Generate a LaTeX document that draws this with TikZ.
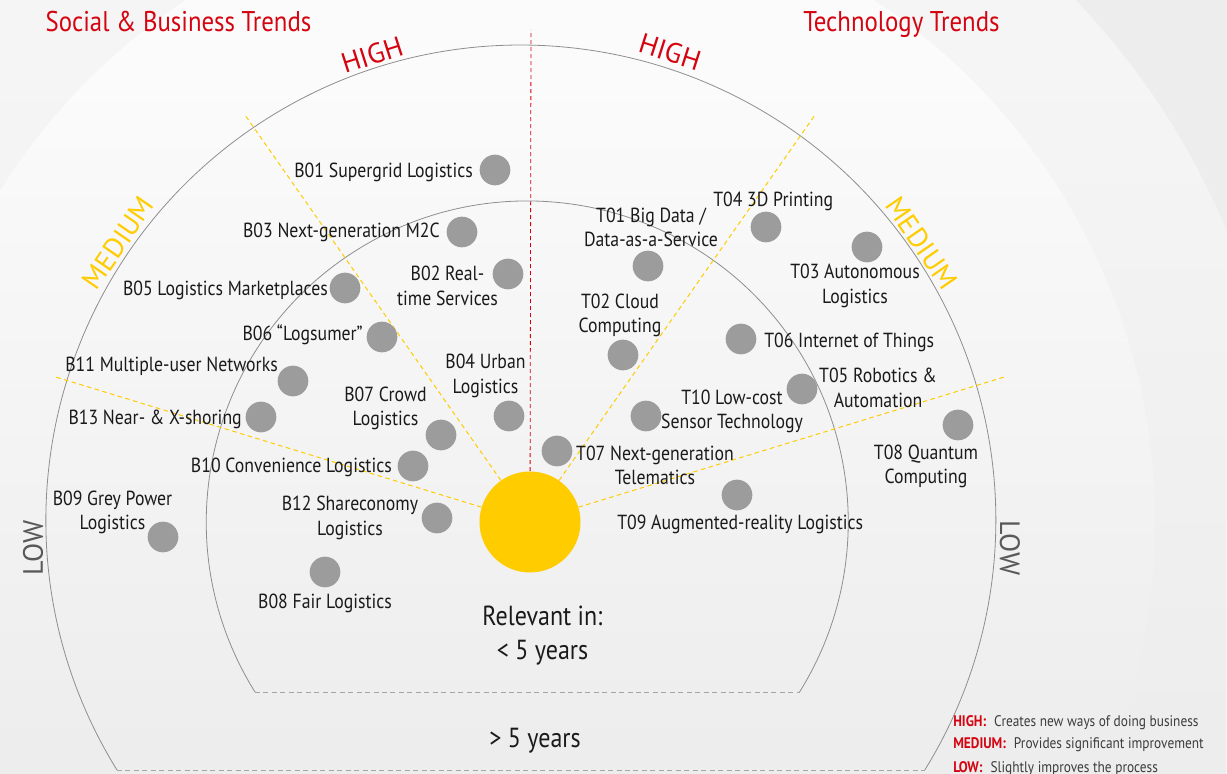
\documentclass[tikz,border=0pt]{standalone}
\usepackage{fontspec}
\setmainfont{PT Sans}[FakeStretch=0.87]
\newfontfamily\capsfont{PT Sans}
\usetikzlibrary{fadings}

\definecolor{dhlred}{HTML}{D40511}
\definecolor{sunyellow}{HTML}{FFCC00}
\definecolor{dotgray}{HTML}{9C9C9C}
\definecolor{ringgray}{HTML}{8E8E8E}
\definecolor{bgout}{HTML}{EDEDED}
\definecolor{bgmid}{HTML}{F5F5F5}
\definecolor{bgin}{HTML}{FBFBFB}
\definecolor{ink}{HTML}{1A1A1A}

\begin{document}
\begin{tikzpicture}[
                x=.75pt, y=.75pt,
                ring/.style={draw=ringgray, line width=.6pt},
                floor/.style={draw=ringgray!80, line width=.6pt, dash pattern=on 3.75pt off 2.6pt},
                axis/.style={draw=dhlred, line width=.6pt, dash pattern=on 3pt off 2.25pt},
                ray/.style={draw=sunyellow, line width=.75pt, dash pattern=on 3.4pt off 2.6pt},
                bubble/.style={circle, fill=dotgray, minimum size=23pt, inner sep=0pt},
                lbl/.style={font=\fontsize{15.3}{18.4}\selectfont, text=ink, inner sep=0pt, align=center},
                title/.style={font=\fontsize{21.4}{26}\selectfont, text=dhlred, inner sep=0pt},
                level/.style={font=\capsfont\fontsize{21}{25}\selectfont, inner sep=0pt},
                big/.style={font=\fontsize{20.7}{25.5}\selectfont, text=ink, inner sep=0pt, align=center},
                key/.style={font=\fontsize{11.5}{14}\selectfont, text=ink!85, inner sep=0pt, anchor=base west},
            ]
                \useasboundingbox (-530, -252) rectangle (697, 522);

                %% background: soft rings, fading to grey at the bottom
                \fill[bgout] (-530, -252) rectangle (697, 522);
                \fill[bgmid] (0, 0) circle[radius=755];
                \fill[bgin] (0, 0) circle[radius=625];
                \fill[bgout, path fading=north] (-530, -252) rectangle (697, 422);

                %% the two horizons, cut flat at the bottom
                \draw[ring] (-413, -248) arc[start angle=211.75, end angle=-31.75, radius=475];
                \draw[floor] (-413, -248) -- (395, -248);
                \draw[ring] (-275, -170) arc[start angle=211.98, end angle=-31.98, radius=321];
                \draw[floor] (-275, -170) -- (270, -170);

                %% centre, sector borders and the split between both halves
                \node[circle, fill=sunyellow, minimum size=75.75pt, inner sep=0pt] (sun) at (0, 0) {};
                \foreach \a in {17, 55, 125, 163}{
                    \draw[ray] (sun) -- (\a:497);
                }
                \coordinate (top) at (1, 492);
                \draw[axis] (sun) -- (top);

                %% trends
                \foreach \n/\x/\y in {b01/-35/352, b02/-22/248, b03/-68/290, b04/-21/106,
                    b05/-185/234, b06/-148/185, b07/-89/87, b08/-205/-50, b09/-367/-15,
                    b10/-117/56, b11/-237/141, b12/-93/4, b13/-269/105,
                    t01/118/256, t02/93/167, t03/337/275, t04/236/295, t05/272/133,
                    t06/211/183, t07/27/71, t08/428/97, t09/207/27, t10/116/106}{
                    \node[bubble] (\n) at (\x, \y) {};
                }

                \node[lbl, anchor=base east] (lb01) at (-57, 344) {B01 Supergrid Logistics};
                \node[lbl] (lb02) at (-82.5, 236) {B02 Real-\\time Services};
                \node[lbl, anchor=base east] (lb03) at (-90, 284) {B03 Next-generation M2C};
                \node[lbl] (lb04) at (-44.5, 146) {B04 Urban\\Logistics};
                \node[lbl, anchor=base east] (lb05) at (-202, 226) {B05 Logistics Marketplaces};
                \node[lbl, anchor=base east] (lb06) at (-167, 181) {B06 “Logsumer”};
                \node[lbl] (lb07) at (-144.5, 113.5) {B07 Crowd\\Logistics};
                \node[lbl, anchor=base] (lb08) at (-205, -86) {B08 Fair Logistics};
                \node[lbl] (lb09) at (-417.5, 9.5) {B09 Grey Power\\Logistics};
                \node[lbl, anchor=base east] (lb10) at (-138, 49) {B10 Convenience Logistics};
                \node[lbl, anchor=base east] (lb11) at (-252, 150) {B11 Multiple-user Networks};
                \node[lbl] (lb12) at (-180, 4) {B12 Shareconomy\\Logistics};
                \node[lbl, anchor=base east] (lb13) at (-288, 97) {B13 Near- \& X-shoring};

                \node[lbl] (lt01) at (121, 294.5) {T01 Big Data /\\Data-as-a-Service};
                \node[lbl] (lt02) at (90, 206.5) {T02 Cloud\\Computing};
                \node[lbl] (lt03) at (325, 236) {T03 Autonomous\\Logistics};
                \node[lbl, anchor=base west] (lt04) at (183, 315) {T04 3D Printing};
                \node[lbl] (lt05) at (348, 134) {T05 Robotics \&\\Automation};
                \node[lbl, anchor=base west] (lt06) at (234, 174) {T06 Internet of Things};
                \node[lbl] (lt07) at (125, 56.5) {T07 Next-generation\\Telematics};
                \node[lbl] (lt08) at (396, 55.5) {T08 Quantum\\Computing};
                \node[lbl, anchor=base west] (lt09) at (87, -8) {T09 Augmented-reality Logistics};
                \node[lbl] (lt10) at (202, 110.5) {T10 Low-cost\\Sensor Technology};

                %% impact levels round the outer horizon
                \node[level, text=dhlred, rotate=17.8] (hiL) at (-158, 467) {HIGH};
                \node[level, text=dhlred, rotate=-17.7] (hiR) at (140, 470) {HIGH};
                \node[level, text=sunyellow, rotate=55.5] (meL) at (-412, 279) {MEDIUM};
                \node[level, text=sunyellow, rotate=-55.4] (meR) at (392, 279) {MEDIUM};
                \node[level, text=black!65, rotate=90] (loL) at (-497, -26) {LOW};
                \node[level, text=black!65, rotate=-90] (loR) at (480, -26) {LOW};

                %% headings, time frames, key
                \node[title, anchor=base] (social) at (-351.5, 490) {Social \& Business Trends};
                \node[title, anchor=base west] (tech) at (273, 490) {Technology Trends};
                \node[big] (near) at (12.5, -114) {Relevant in:\\< 5 years};
                \node[big, anchor=base] (far) at (5, -225) {> 5 years};
                \node[key] (khigh) at (423, -204) {{\color{dhlred}\bfseries HIGH:}\hspace{6pt}Creates new ways of doing business};
                \node[key] (kmed) at (423, -226) {{\color{dhlred}\bfseries MEDIUM:}\hspace{6pt}Provides significant improvement};
                \node[key] (klow) at (423, -250) {{\color{dhlred}\bfseries LOW:}\hspace{6pt}Slightly improves the process};
            \end{tikzpicture}
\end{document}
